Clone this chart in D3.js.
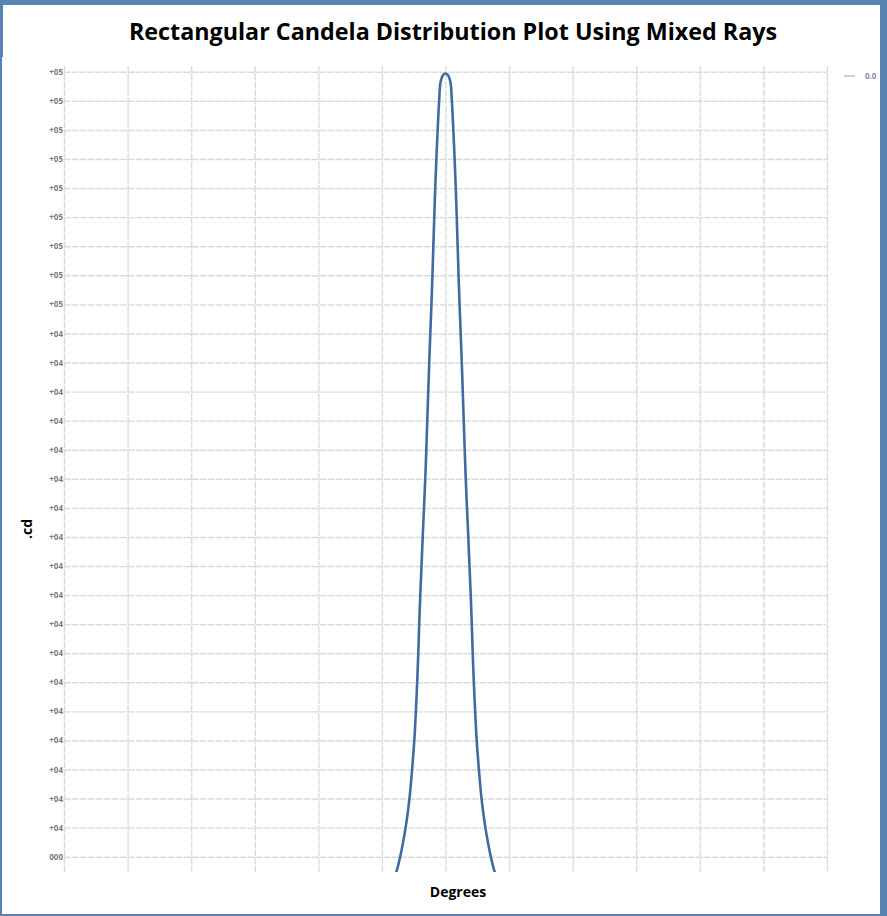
<!DOCTYPE html>
<meta charset="utf-8">
<style>
body { margin: 0; }
.grid line { stroke: #dcdcdc; stroke-width: 1.4; stroke-dasharray: 7,1; }
.grid .domain { display: none; }
.ylab text { font-family: "Open Sans", sans-serif; font-size: 8px; font-weight: bold; fill: #7a7a7a; }
</style>
<svg width="887" height="916"></svg>
<script src="https://d3js.org/d3.v7.min.js"></script>
<script>

// half-profile of the beam, mirrored round 0 degrees
var angles = [-12.2, -11.6, -10.6, -9.35, -8.46, -7.88, -7.36, -6.99, -6.68, -6.42, -6.2, -5.95, -5.66, -5.38, -5.05,
  -4.76, -4.53, -4.3, -4.07, -3.84, -3.58, -3.32, -3.08, -2.87, -2.65, -2.42, -2.15, -1.85, -1.5, -1.15, -0.6, 0,
  0.6, 1.15, 1.5, 1.85, 2.15, 2.42, 2.65, 2.87, 3.08, 3.32, 3.58, 3.84, 4.07, 4.3, 4.53, 4.76,
  5.05, 5.38, 5.66, 5.95, 6.2, 6.42, 6.68, 6.99, 7.36, 7.88, 8.46, 9.35, 10.6, 11.6, 12.2];
var candela = [2600, 3400, 6300, 11300, 16300, 21000, 26000, 31000, 36000, 41000, 46000, 51000, 56000, 61000, 66300,
  71300, 76000, 81000, 86000, 91000, 96000, 101000, 106000, 111000, 116000, 121000, 126000, 131000, 136000, 139300, 140400, 140700,
  140400, 139300, 136000, 131000, 126000, 121000, 116000, 111000, 106000, 101000, 96000, 91000, 86000, 81000, 76000, 71300,
  66300, 61000, 56000, 51000, 46000, 41000, 36000, 31000, 26000, 21000, 16300, 11300, 6300, 3400, 2600];

var xTicks = [-90, -75, -60, -45, -30, -15, 0, 15, 30, 45, 60, 75, 90];
var yTicks = [6000, 11000, 16000, 21000, 26000, 31000, 36000, 41000, 46000, 51000, 56000, 61000, 66000, 71000,
  76000, 81000, 86000, 91000, 96000, 101000, 106000, 111000, 116000, 121000, 126000, 131000, 136000, 141000];
var yTickLabels = ["000", "+04", "+04", "+04", "+04", "+04", "+04", "+04", "+04", "+04", "+04", "+04", "+04", "+04",
  "+04", "+04", "+04", "+04", "+04", "+05", "+05", "+05", "+05", "+05", "+05", "+05", "+05", "+05"];
var seriesName = "0.0";

var svg = d3.select("svg"),
    width = +svg.attr("width"),
    height = +svg.attr("height");

// frame
svg.append("rect").attr("width", width).attr("height", height).attr("fill", "#5783b2");
svg.append("rect").attr("x", 3).attr("y", 5).attr("width", 877).attr("height", 909).attr("fill", "#fff");
svg.append("rect").attr("x", 2).attr("y", 57).attr("width", 20).attr("height", 857).attr("fill", "#fff");

var plotL = 64, plotR = 827, plotT = 66, plotB = 872;

var x = d3.scaleLinear().domain([-90, 90]).range([plotL, plotR]);
var y = d3.scaleLinear().domain([3370, 142000]).range([plotB, plotT]);

svg.append("g")
    .attr("class", "grid")
    .attr("transform", "translate(0," + plotB + ")")
  .call(d3.axisBottom(x).tickValues(xTicks).tickSize(-(plotB - plotT)).tickFormat(""));

var gy = svg.append("g")
    .attr("class", "grid ylab")
    .attr("transform", "translate(" + plotL + ",0)")
  .call(d3.axisLeft(y).tickValues(yTicks).tickSize(-(plotR - plotL)).tickPadding(1)
    .tickFormat(function(d, i) { return yTickLabels[i]; }));

svg.append("clipPath").attr("id", "plot")
  .append("rect").attr("x", plotL).attr("y", plotT).attr("width", plotR - plotL).attr("height", plotB - plotT);

var line = d3.line()
    .x(function(d, i) { return x(angles[i]); })
    .y(function(d) { return y(d); })
    .curve(d3.curveCatmullRom.alpha(0.5));

svg.append("path")
    .datum(candela)
    .attr("clip-path", "url(#plot)")
    .attr("fill", "none")
    .attr("stroke", "#416b9c")
    .attr("stroke-width", 2.6)
    .attr("d", line);

// legend
svg.append("line").attr("x1", 844).attr("x2", 855).attr("y1", 76).attr("y2", 76)
    .attr("stroke", "#b7bfd6").attr("stroke-width", 1.5);
svg.append("text").attr("x", 865).attr("y", 79)
    .attr("font-family", "Open Sans, sans-serif").attr("font-size", 8).attr("font-weight", "bold")
    .attr("fill", "#8a8aa8").text(seriesName);

svg.append("text")
    .attr("x", 453).attr("y", 40)
    .attr("text-anchor", "middle")
    .attr("font-family", "Open Sans, sans-serif").attr("font-size", 23.3).attr("font-weight", "bold")
    .attr("fill", "#000")
    .text("Rectangular Candela Distribution Plot Using Mixed Rays");

svg.append("text")
    .attr("x", 458).attr("y", 897)
    .attr("text-anchor", "middle")
    .attr("font-family", "Open Sans, sans-serif").attr("font-size", 14).attr("font-weight", "bold")
    .attr("fill", "#000")
    .text("Degrees");

svg.append("text")
    .attr("transform", "translate(32,529) rotate(-90)")
    .attr("text-anchor", "middle")
    .attr("font-family", "Open Sans, sans-serif").attr("font-size", 14).attr("font-weight", "bold")
    .attr("fill", "#000")
    .text(".cd");

</script>
